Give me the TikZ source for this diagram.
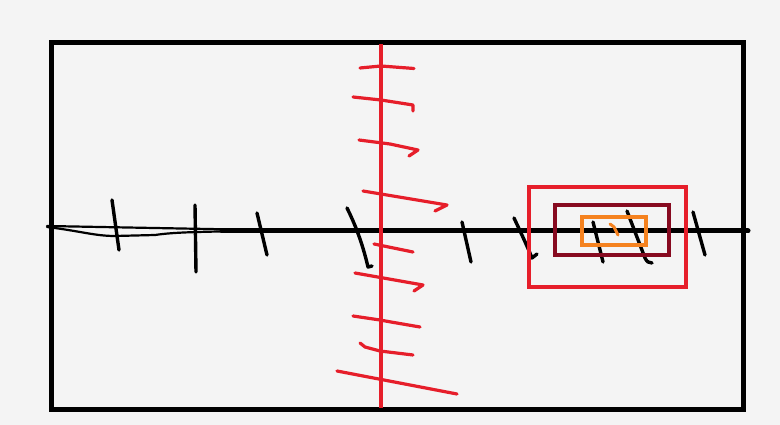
\documentclass[tikz,border=0pt]{standalone}
\definecolor{bgc}{HTML}{F4F4F4}
\definecolor{penred}{HTML}{E61E2A}
\definecolor{darkred}{HTML}{870A20}
\definecolor{penorange}{HTML}{F5821F}
\tikzset{
  frame/.style={draw=black, line width=4.5pt},
  axisline/.style={draw=black, line width=5pt, line cap=round},
  thinaxis/.style={draw=black, line width=2.2pt, line cap=round},
  tickmark/.style={draw=black, line width=3.4pt, line cap=round, line join=round},
  redaxis/.style={draw=penred, line width=4pt},
  hatch/.style={draw=penred, line width=3.2pt, line cap=round, line join=round},
  boxred/.style={draw=penred, line width=4pt},
  boxdark/.style={draw=darkred, line width=4pt},
  boxorange/.style={draw=penorange, line width=3.5pt},
}
\begin{document}
\begin{tikzpicture}[x=1pt,y=-1pt]
\useasboundingbox (0,0) rectangle (780,425);
\fill[bgc] (0,0) rectangle (780,425);
% outer frame
\draw[frame] (51.5,42.5) rectangle (743.5,409.5);
% horizontal axis
\draw[thinaxis] (47,226) -- (235,229.5);
\draw[thinaxis] (47,227) .. controls (80,231) and (95,236) .. (115,236) -- (155,235) .. controls (175,232) and (200,232) .. (240,231);
\draw[axisline] (222,231) -- (748,231);
% black ticks
\draw[tickmark] (112,200) -- (119,250);
\draw[tickmark] (195,205) -- (196,272);
\draw[tickmark] (257,213) -- (267,255);
\draw[tickmark] (347,208) .. controls (358,230) and (364,250) .. (368,267) -- (372,266);
\draw[tickmark] (462,222) -- (471,262);
\draw[tickmark] (514,218) .. controls (522,235) and (528,248) .. (532,258) -- (537,254);
\draw[tickmark] (593,222) -- (603,262);
\draw[tickmark] (627,211) -- (645,258) .. controls (647,262) and (649,263) .. (652,263);
\draw[tickmark] (693,212) -- (705,255);
% red vertical axis
\draw[redaxis] (381,44) -- (381,408);
% red hatches
\draw[hatch] (360,68) -- (381,66) -- (414,68.5);
\draw[hatch] (353,97) -- (381,100) -- (413,105) -- (413,111);
\draw[hatch] (359,140) -- (390,144) -- (418,150) -- (409,156);
\draw[hatch] (363,191) -- (447,205) -- (435,211);
\draw[hatch] (374,244) -- (413,252);
\draw[hatch] (355,273) -- (423,285) -- (414,291);
\draw[hatch] (353,316) -- (380,320) -- (391,322) -- (420,327);
\draw[hatch] (360,343) -- (365,347) -- (380,351) -- (413,355);
\draw[hatch] (337,371) -- (457,394);
% zoom boxes
\draw[boxred] (529,187.5) rectangle (686,286.5);
\draw[boxdark] (555,205) rectangle (669,255);
\draw[boxorange] (582,217) rectangle (646,245);
\draw[draw=penorange, line width=3pt, line cap=round] (610,224) -- (614,227) -- (618,235);
\end{tikzpicture}
\end{document}
